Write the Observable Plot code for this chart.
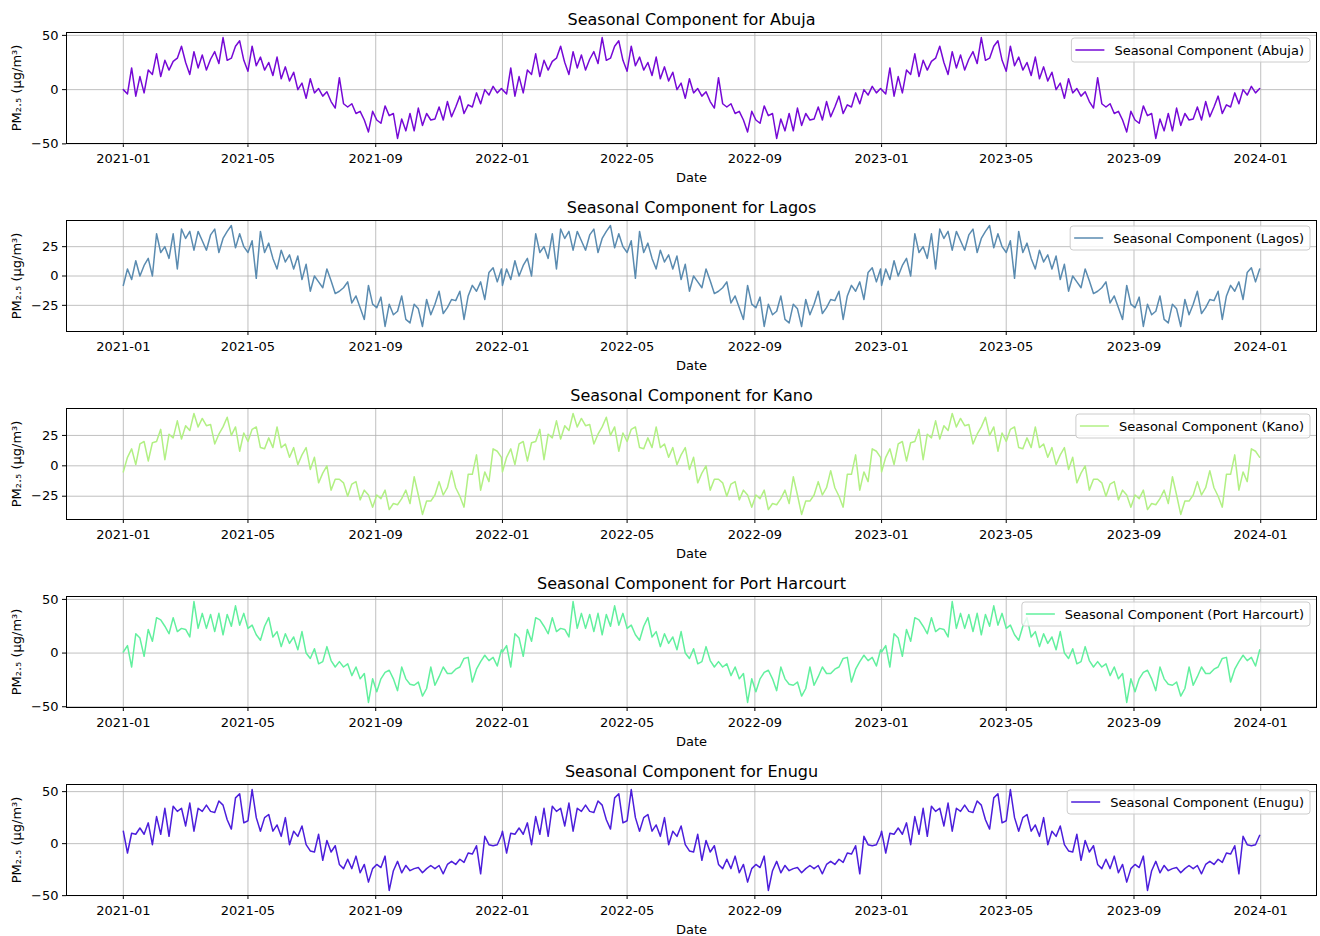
<!DOCTYPE html>
<html>
<head>
<meta charset="utf-8">
<script src="https://cdn.jsdelivr.net/npm/d3@7"></script>
<script src="https://cdn.jsdelivr.net/npm/@observablehq/plot@0.6"></script>
<style>
  body { margin: 0; background: white; }
  #chart svg { display: block; }
</style>
</head>
<body>
<div id="chart"></div>
<script>
// ---- Data (seasonal component, one yearly cycle read every 4 days; repeats each year) ----
const cities = ["Abuja", "Lagos", "Kano", "Port Harcourt", "Enugu"];
const cityColors = ["#7609d6", "#5a8bb0", "#b2f084", "#62f09e", "#4c1edb"];
const years = [2021, 2022, 2023];
const dayStep = 4;

const abuja = [0,-4,20,-6,12,-3,18,14,33,12, 27,18,26,29,40,25,14,35,20,32, 18,28,35,24,48,27,29,40,45,27, 17,40,22,30,18,25,13,30,10,21, 8,16,0,6,-8,10, -3,1,-6,-2,-11,-17,11,-13,-16,-13, -22,-20,-28,-39,-20,-28,-31,-15,-24,-22, -45,-27,-38,-22,-38,-17,-33,-22,-28,-27, -16,-28,-11,-25,-16,-6,-22,-14,-16,-3, -13,0,-5,3,-3,1];
const lagos = [-8,6,-3,13,0,9,15,0,36,20, 25,15,36,6,40,32,38,22,38,30, 22,35,40,20,32,38,43,24,36,25, 20,30,-2,38,20,28,15,6,22,12, 18,6,17,-3,10,-13, 0,-5,-10,6,-4,-15,-13,-10,-5,-23, -17,-27,-37,-8,-24,-27,-18,-43,-24,-33, -30,-17,-37,-40,-24,-28,-43,-20,-33,-24, -13,-32,-27,-20,-21,-13,-37,-17,-8,-13, -5,-20,3,7,-5,6];
const kano = [-5,7,14,1,18,20,4,19,20,30, 5,26,23,37,22,33,29,43,32,39, 33,34,18,26,32,40,25,32,12,27, 20,30,32,15,14,23,15,32,15,18, 7,15,1,9,15,-3, 7,-14,-6,0,-20,-11,-11,-14,-25,-15, -13,-28,-20,-24,-34,-24,-27,-20,-36,-31, -32,-27,-20,-31,-9,-24,-40,-29,-29,-24, -13,-24,-18,-4,-18,-25,-34,-7,-7,9, -20,-5,-13,14,12,7];
const portHarcourt = [1,7,-13,18,14,-3,22,11,33,31, 25,18,33,20,23,22,15,48,23,37, 23,36,20,37,17,36,25,44,26,37, 23,26,17,12,25,33,15,20,6,18, 9,15,3,20,0,-5, 4,-10,-8,6,-7,-13,-8,-13,-10,-21, -13,-24,-19,-46,-24,-36,-24,-18,-16,-24, -35,-13,-24,-29,-30,-27,-40,-33,-13,-30, -22,-13,-19,-19,-15,-13,-5,-4,-27,-15, -8,-2,-7,-4,-12,3];
const enugu = [12,-9,10,9,15,9,20,-1,26,9, 34,7,36,31,34,17,39,12,34,31, 37,31,30,41,37,23,14,44,48,20, 22,52,25,12,25,28,12,18,7,25, -1,12,7,17,-1,-7, -8,9,-16,3,-8,-2,-20,-24,-15,-24, -12,-28,-20,-37,-24,-20,-23,-12,-45,-26, -17,-28,-21,-26,-24,-23,-28,-24,-21,-24, -21,-29,-20,-17,-20,-15,-18,-9,-10,-2, -29,7,-1,-2,-1,8];
const seriesValues = [abuja, lagos, kano, portHarcourt, enugu];

const yTickValues = [[-50, 0, 50], [-25, 0, 25], [-25, 0, 25], [-50, 0, 50], [-50, 0, 50]];
const xTickLabels = ["2021-01","2021-05","2021-09","2022-01","2022-05","2022-09","2023-01","2023-05","2023-09","2024-01"];
const yLabel = "PM\u2082.\u2085 (\u03bcg/m\u00b3)";
const xLabel = "Date";

// ---- Build ----
const parseMonth = d3.utcParse("%Y-%m");
const fmtMonth = d3.utcFormat("%Y-%m");
const xTicks = xTickLabels.map(parseMonth);
const dataStart = new Date(Date.UTC(2021, 0, 1));
const dataEnd = new Date(Date.UTC(2023, 11, 31));
const xPad = (dataEnd - dataStart) * 0.05;
const xDomain = [new Date(+dataStart - xPad), new Date(+dataEnd + xPad)];

const container = document.getElementById("chart");

cities.forEach((city, ci) => {
  const vals = seriesValues[ci];
  const rows = [];
  years.forEach(y => {
    vals.forEach((v, i) => rows.push({date: new Date(Date.UTC(y, 0, 1 + i * dayStep)), value: v}));
  });
  const [mn, mx] = d3.extent(vals);
  const pad = (mx - mn) * 0.05;
  const color = cityColors[ci];
  const yt = yTickValues[ci];

  const svg = Plot.plot({
    width: 1320,
    height: 188,
    marginTop: 32,
    marginBottom: 45,
    marginLeft: 66,
    marginRight: 4,
    style: {fontFamily: "DejaVu Sans", fontSize: "13px", color: "black", background: "white", overflow: "visible"},
    x: {type: "utc", domain: xDomain, ticks: xTicks, tickFormat: fmtMonth, tickSize: 4, tickPadding: 6, label: null},
    y: {domain: [mn - pad, mx + pad], ticks: yt, tickSize: 4, tickPadding: 4, label: null},
    marks: [
      Plot.ruleX(xTicks, {stroke: "#b0b0b0", strokeWidth: 0.8}),
      Plot.ruleY(yt, {stroke: "#b0b0b0", strokeWidth: 0.8}),
      Plot.line(rows, {x: "date", y: "value", stroke: color, strokeWidth: 1.5}),
      Plot.frame({stroke: "black", strokeWidth: 1}),
      Plot.text([`Seasonal Component for ${city}`], {frameAnchor: "top", lineAnchor: "middle", dy: -13, fontSize: 16}),
      Plot.text([xLabel], {frameAnchor: "bottom", lineAnchor: "middle", dy: 34, fontSize: 13}),
      Plot.text([yLabel], {frameAnchor: "left", textAnchor: "middle", lineAnchor: "middle", dx: -50, rotate: -90, fontSize: 13})
    ]
  });
  container.appendChild(svg);

  // legend box (upper right, matplotlib style)
  const g = d3.select(svg).append("g").attr("text-anchor", "start");
  const label = `Seasonal Component (${city})`;
  const t = g.append("text").attr("font-size", 13).attr("fill", "black").attr("text-anchor", "start").attr("dy", "0.35em").text(label);
  const w = t.node().getComputedTextLength();
  const right = 1310, top = 38, cy = 50;
  const textStart = right - 6 - w;
  g.insert("rect", "text")
    .attr("x", textStart - 43).attr("y", top)
    .attr("width", w + 49).attr("height", 24)
    .attr("rx", 3)
    .attr("fill", "white").attr("fill-opacity", 0.8)
    .attr("stroke", "#cccccc").attr("stroke-width", 1);
  g.insert("line", "text")
    .attr("x1", textStart - 39).attr("x2", textStart - 10)
    .attr("y1", cy).attr("y2", cy)
    .attr("stroke", color).attr("stroke-width", 1.5);
  t.attr("x", textStart).attr("y", cy);
});
</script>
</body>
</html>
